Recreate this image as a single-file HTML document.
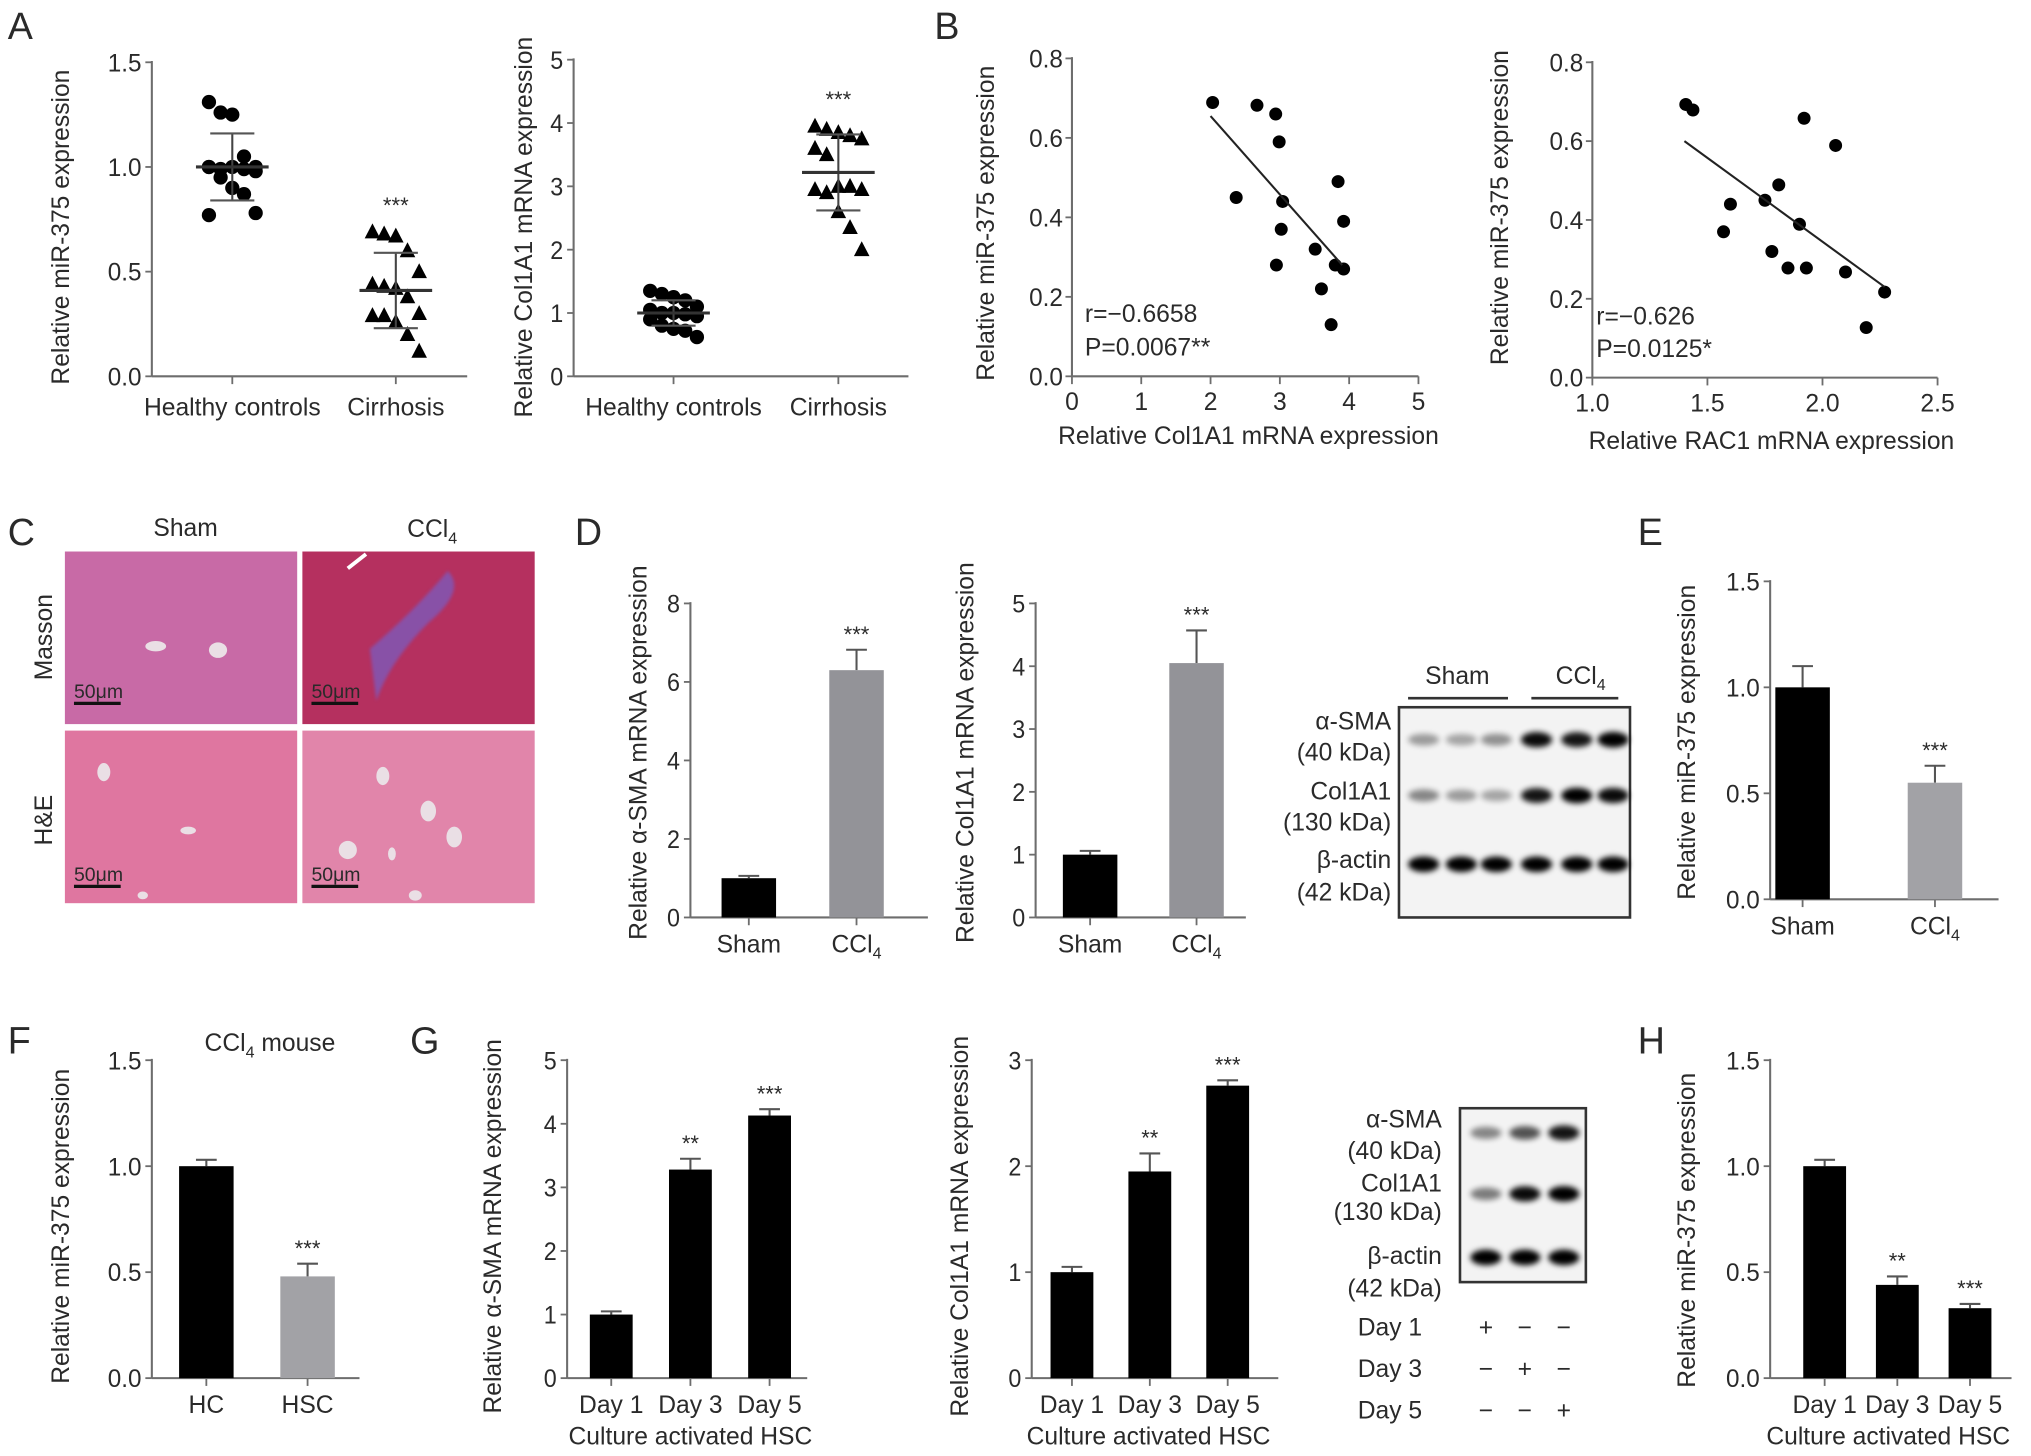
<!DOCTYPE html>
<html><head><meta charset="utf-8">
<style>
html,body{margin:0;padding:0;background:#fff;}
svg{display:block;}
text{font-family:"Liberation Sans",Arial,sans-serif;fill:#2a2a2a;}
</style></head>
<body>
<svg id="fig" xmlns="http://www.w3.org/2000/svg" width="2031" height="1456" viewBox="0 0 1565 1122" preserveAspectRatio="none">
<defs>
<filter id="blur" x="-50%" y="-100%" width="200%" height="300%"><feGaussianBlur stdDeviation="2.2"/></filter>
<filter id="blur2"><feGaussianBlur stdDeviation="1.2"/></filter>
</defs>
</svg>
<script>
// ---------- DATA ----------
const aHealthy = [1.31,1.26,1.25,1.05,1.0,1.0,0.99,1.0,0.99,0.98,1.0,0.95,0.9,0.87,0.78,0.77];
const aCirrhosis = [0.69,0.68,0.67,0.6,0.5,0.44,0.43,0.42,0.38,0.3,0.29,0.29,0.26,0.2,0.12];
const aHealthyStats = [1.0,0.16];
const aCirrhosisStats = [0.41,0.18];
const a2Healthy = [1.35,1.3,1.25,1.2,1.1,1.05,1.0,1.0,0.98,0.95,0.9,0.8,0.75,0.72,0.62];
const a2Cirrhosis = [3.95,3.9,3.85,3.8,3.75,3.6,3.5,3.0,3.0,2.95,2.95,2.9,2.6,2.35,2.0];
const a2HealthyStats = [1.0,0.2];
const a2CirrhosisStats = [3.22,0.6];
const aCategories = ["Healthy controls","Cirrhosis"];
const b1X = [2.03,2.67,2.94,2.99,2.37,3.04,3.02,2.95,3.51,3.6,3.74,3.84,3.92,3.8,3.92];
const b1Y = [0.689,0.682,0.66,0.59,0.45,0.44,0.37,0.28,0.32,0.22,0.13,0.49,0.39,0.28,0.27];
const b1Fit = [2.0,0.655,3.9,0.28];
const b2X = [1.406,1.437,1.92,2.057,1.81,1.6,1.75,1.57,1.9,1.78,1.85,1.93,2.1,2.27,2.19];
const b2Y = [0.693,0.679,0.658,0.589,0.489,0.44,0.45,0.37,0.389,0.32,0.278,0.278,0.268,0.217,0.127];
const b2Fit = [1.4,0.6,2.27,0.23];
const dCats = ["Sham","CCl4"];
const d1Vals = [1.0,6.3]; const d1Err = [0.06,0.52];
const d2Vals = [1.0,4.05]; const d2Err = [0.06,0.52];
const eVals = [1.0,0.55]; const eErr = [0.1,0.08];
const fCats = ["HC","HSC"];
const fVals = [1.0,0.48]; const fErr = [0.03,0.06];
const gCats = ["Day 1","Day 3","Day 5"];
const g1Vals = [1.0,3.28,4.13]; const g1Err = [0.05,0.17,0.1];
const g2Vals = [1.0,1.95,2.76]; const g2Err = [0.05,0.17,0.05];
const hVals = [1.0,0.44,0.33]; const hErr = [0.03,0.04,0.02];
const sigD1 = ["","***"], sigD2 = ["","***"], sigE = ["","***"], sigF = ["","***"];
const sigG1 = ["","**","***"], sigG2 = ["","**","***"], sigH = ["","**","***"];
const ticks15 = [0,0.5,1.0,1.5], ticks15L = ["0.0","0.5","1.0","1.5"];
const ticks5 = [0,1,2,3,4,5], ticks5L = ["0","1","2","3","4","5"];
const ticks8 = [0,2,4,6,8], ticks8L = ["0","2","4","6","8"];
const ticks3 = [0,1,2,3], ticks3L = ["0","1","2","3"];
const ticks08 = [0,0.2,0.4,0.6,0.8], ticks08L = ["0.0","0.2","0.4","0.6","0.8"];
const bx1Ticks = [0,1,2,3,4,5], bx1L = ["0","1","2","3","4","5"];
const bx2Ticks = [1.0,1.5,2.0,2.5], bx2L = ["1.0","1.5","2.0","2.5"];

// ---------- HELPERS ----------
const NS='http://www.w3.org/2000/svg';
const svg=document.getElementById('fig');
function mk(tag,attrs,name,parent){
  const e=document.createElementNS(NS,tag);
  for(const k in attrs) e.setAttribute(k,attrs[k]);
  
  
  (parent||svg).appendChild(e);
  return e;
}
function txt(s,x,y,size,anchor,name,extra){
  const a={x:x,y:y,'font-size':size,'text-anchor':anchor||'start'};
  if(extra) for(const k in extra) a[k]=extra[k];
  const t=mk('text',a,name);
  if(s.indexOf('CCl4')>=0){
    const parts=s.split('CCl4');
    t.appendChild(document.createTextNode(parts[0]+'CCl'));
    const sub=document.createElementNS(NS,'tspan');
    sub.setAttribute('font-size',size*0.65);
    sub.setAttribute('dy',size*0.25);
    sub.textContent='4';
    t.appendChild(sub);
    if(parts[1]){const r=document.createElementNS(NS,'tspan');r.setAttribute('dy',-size*0.25);r.textContent=parts[1];t.appendChild(r);}
  } else t.textContent=s;
  return t;
}
function vtitle(s,x,cy,name){
  return txt(s,x,cy,19,'middle',name,{transform:'rotate(-90 '+x+' '+cy+')'});
}
const AX='#6d6d6d';
function yAxis(c,ticks,labels,pre){
  mk('line',{x1:c.x,y1:c.ytop-1,x2:c.x,y2:c.y0,stroke:AX,'stroke-width':1.6},pre+'-y-axis');
  mk('line',{x1:c.x,y1:c.y0,x2:c.xend,y2:c.y0,stroke:AX,'stroke-width':1.6},pre+'-x-axis');
  ticks.forEach((v,i)=>{
    const y=c.sy(v);
    mk('line',{x1:c.x-5,y1:y,x2:c.x,y2:y,stroke:AX,'stroke-width':1.4},pre+'-y-tick');
    txt(labels[i],c.x-8,y+7,19,'end',pre+'-y-tick-label',{'textLength':labels[i].length>1?26:10,'lengthAdjust':'spacingAndGlyphs'});
  });
}
function scale(y0,ytop,max){return v=>y0-(v/max)*(y0-ytop);}

function barChart(c,cats,vals,errs,sig,colors,pre,title,ticks,labels){
  c.sy=scale(c.y0,c.ytop,c.max);
  yAxis(c,ticks,labels,pre);
  cats.forEach((cat,i)=>{
    const cx=c.cx0+i*c.step, v=vals[i], y=c.sy(v), ye=c.sy(v+errs[i]);
    mk('line',{x1:cx,y1:c.y0,x2:cx,y2:c.y0+6,stroke:AX,'stroke-width':1.4},pre+'-x-tick');
    mk('line',{x1:cx,y1:y,x2:cx,y2:ye,stroke:'#555','stroke-width':1.6},pre+'-error-bar');
    mk('line',{x1:cx-8,y1:ye,x2:cx+8,y2:ye,stroke:'#555','stroke-width':1.6},pre+'-error-cap');
    mk('rect',{x:cx-c.bw/2,y:y,width:c.bw,height:c.y0-y,fill:colors[i]},pre+'-bar-'+cat.toLowerCase().replace(/\s/g,''));
    if(sig[i]) txt(sig[i],cx,ye-6,17,'middle',pre+'-significance');
    txt(cat,cx,c.y0+27,19,'middle',pre+'-x-label');
  });
  vtitle(title,c.tx,c.tcy,pre+'-y-title');
}
function dotPlot(c,groups,stats,shapes,pre){
  c.sy=scale(c.y0,c.ytop,c.max);
  groups.forEach((g,gi)=>{
    const cx=c.cx0+gi*c.step;
    mk('line',{x1:cx,y1:c.y0,x2:cx,y2:c.y0+6,stroke:AX,'stroke-width':1.4},pre+'-x-tick');
    g.forEach((v,i)=>{
      const off=((i%5)-2)*9;
      const x=cx+off, y=c.sy(v);
      if(shapes[gi]==='dot') mk('circle',{cx:x,cy:y,r:5.5,fill:'#000'},pre+'-point');
      else mk('polygon',{points:(x)+','+(y-6.5)+' '+(x-6)+','+(y+5)+' '+(x+6)+','+(y+5),fill:'#000'},pre+'-point');
    });
    const m=stats[gi][0], s=stats[gi][1];
    mk('line',{x1:cx,y1:c.sy(m+s),x2:cx,y2:c.sy(m-s),stroke:'#444','stroke-width':1.6},pre+'-sd-line');
    mk('line',{x1:cx-28,y1:c.sy(m),x2:cx+28,y2:c.sy(m),stroke:'#333','stroke-width':2.4},pre+'-mean-line');
    mk('line',{x1:cx-17,y1:c.sy(m+s),x2:cx+17,y2:c.sy(m+s),stroke:'#555','stroke-width':1.6},pre+'-sd-cap');
    mk('line',{x1:cx-17,y1:c.sy(m-s),x2:cx+17,y2:c.sy(m-s),stroke:'#555','stroke-width':1.6},pre+'-sd-cap');
    txt(aCategories[gi],cx,c.y0+30,19,'middle',pre+'-x-label');
  });
}
function scatter(c,xs,ys,fit,xt,xl,pre){
  const sx=v=>c.x+(v-c.xmin)/(c.xmax-c.xmin)*(c.xend-c.x);
  const sy=scale(c.y0,c.ytop,c.max);
  c.sy=sy;
  mk('line',{x1:c.x,y1:c.ytop-1,x2:c.x,y2:c.y0,stroke:AX,'stroke-width':1.6},pre+'-y-axis');
  mk('line',{x1:c.x,y1:c.y0,x2:c.xend,y2:c.y0,stroke:AX,'stroke-width':1.6},pre+'-x-axis');
  ticks08.forEach((v,i)=>{const y=sy(v);
    mk('line',{x1:c.x-5,y1:y,x2:c.x,y2:y,stroke:AX,'stroke-width':1.4},pre+'-y-tick');
    txt(ticks08L[i],c.x-7,y+7,19,'end',pre+'-y-tick-label',{'textLength':26,'lengthAdjust':'spacingAndGlyphs'});});
  xt.forEach((v,i)=>{const x=sx(v);
    mk('line',{x1:x,y1:c.y0,x2:x,y2:c.y0+6,stroke:AX,'stroke-width':1.4},pre+'-x-tick');
    txt(xl[i],x,c.y0+26,19,'middle',pre+'-x-tick-label');});
  xs.forEach((v,i)=>{mk('circle',{cx:sx(v),cy:sy(ys[i]),r:5,fill:'#000'},pre+'-point');});
  mk('line',{x1:sx(fit[0]),y1:sy(fit[1]),x2:sx(fit[2]),y2:sy(fit[3]),stroke:'#222','stroke-width':1.6},pre+'-regression-line');
}
function panelLabel(s,x,y){txt(s,x,y,29,'start','panel-label-'+s.toLowerCase());}

// ---------- PANEL A ----------
panelLabel('A',6,30);
const cA1={x:117,ytop:48,y0:290,max:1.5,xend:360,cx0:179,step:126};
dotPlot(cA1,[aHealthy,aCirrhosis],[aHealthyStats,aCirrhosisStats],['dot','tri'],'a1');
yAxis(cA1,ticks15,ticks15L,'a1');
txt('***',cA1.cx0+cA1.step,cA1.sy(0.78),17,'middle','a1-significance');
vtitle('Relative miR-375  expression',53,175,'a1-y-title');
const cA2={x:442,ytop:46,y0:290,max:5,xend:700,cx0:519,step:127};
dotPlot(cA2,[a2Healthy,a2Cirrhosis],[a2HealthyStats,a2CirrhosisStats],['dot','tri'],'a2');
yAxis(cA2,ticks5,ticks5L,'a2');
txt('***',cA2.cx0+cA2.step,cA2.sy(4.25),17,'middle','a2-significance');
vtitle('Relative Col1A1 mRNA expression',410,175,'a2-y-title');

// ---------- PANEL B ----------
panelLabel('B',720,30);
const cB1={x:826,ytop:45,y0:290,max:0.8,xend:1093,xmin:0,xmax:5};
scatter(cB1,b1X,b1Y,b1Fit,bx1Ticks,bx1L,'b1');
vtitle('Relative miR-375 expression',766,172,'b1-y-title');
txt('Relative Col1A1 mRNA expression',962,342,19,'middle','b1-x-title');
txt('r=\u22120.6658',836,248,19,'start','b1-r-value');
txt('P=0.0067**',836,274,19,'start','b1-p-value');
const cB2={x:1227,ytop:48,y0:291,max:0.8,xend:1493,xmin:1.0,xmax:2.5};
scatter(cB2,b2X,b2Y,b2Fit,bx2Ticks,bx2L,'b2');
vtitle('Relative miR-375 expression',1162,160,'b2-y-title');
txt('Relative RAC1 mRNA  expression',1365,346,19,'middle','b2-x-title');
txt('r=\u22120.626',1230,250,19,'start','b2-r-value');
txt('P=0.0125*',1230,275,19,'start','b2-p-value');

// ---------- PANEL C (histology) ----------
panelLabel('C',6,420);
txt('Sham',143,413,19,'middle','c-col-label-sham');
txt('CCl4',333,414,19,'middle','c-col-label-ccl4');
vtitle('Masson',40,491,'c-row-label-masson');
vtitle('H&E',40,632,'c-row-label-he');
const histo=[[50,425,'#c86aa6','masson-sham'],[233,425,'#b5305f','masson-ccl4'],[50,563,'#df76a0','he-sham'],[233,563,'#e185aa','he-ccl4']];
histo.forEach(h=>{
  mk('rect',{x:h[0],y:h[1],width:179,height:133,fill:h[2]},'c-image-'+h[3]);
});
mk('path',{d:'M 285 500 Q 320 470 345 440 Q 360 455 330 480 Q 300 510 290 540 Z',fill:'#7a5cc0',opacity:0.75,filter:'url(#blur2)'},'c-collagen-stain');
mk('line',{x1:268,y1:438,x2:282,y2:427,stroke:'#fff','stroke-width':3},'c-vessel');
[[120,498,8,4],[168,501,7,6],[80,595,5,7],[145,640,6,3],[110,690,4,3],[295,598,5,7],[330,625,6,8],[268,655,7,7],[350,645,6,8],[320,690,5,4],[302,658,3,5]].forEach(p=>{
  mk('ellipse',{cx:p[0],cy:p[1],rx:p[2],ry:p[3],fill:'#eadfe5'},'c-vessel');
});
[[57,542],[240,542],[57,683],[240,683]].forEach(p=>{
  txt('50μm',p[0],p[1]-4,15,'start','c-scale-bar-label',{'font-family':'Liberation Serif,serif'});
  mk('line',{x1:p[0],y1:p[1],x2:p[0]+36,y2:p[1],stroke:'#111','stroke-width':2.5},'c-scale-bar');
});

// ---------- PANEL D ----------
panelLabel('D',443,420);
const cD1={x:532,ytop:465,y0:707,max:8,xend:715,cx0:577,step:83,bw:42,tx:498,tcy:580};
barChart(cD1,dCats,d1Vals,d1Err,sigD1,['#000','#939398'],'d1','Relative α-SMA mRNA expression',ticks8,ticks8L);
const cD2={x:798,ytop:465,y0:707,max:5,xend:960,cx0:840,step:82,bw:42,tx:750,tcy:580};
barChart(cD2,dCats,d2Vals,d2Err,sigD2,['#000','#939398'],'d2','Relative Col1A1 mRNA expression',ticks5,ticks5L);

function blot(x,y,w,h,lanes,rows,pre){
  mk('rect',{x:x,y:y,width:w,height:h,fill:'#f3f3f3',stroke:'#333','stroke-width':2},pre+'-blot-box');
  rows.forEach((r)=>{
    lanes.forEach((lx,li)=>{
      const inten=r.vals[li];
      mk('ellipse',{cx:lx,cy:r.y,rx:12,ry:4+inten*2,fill:'#000',opacity:0.15+0.85*inten,filter:'url(#blur)'},pre+'-band');
    });
  });
}
txt('Sham',1123,527,19,'middle','d-blot-sham-label');
txt('CCl4',1218,527,19,'middle','d-blot-ccl4-label');
mk('line',{x1:1085,y1:538,x2:1162,y2:538,stroke:'#333','stroke-width':2},'d-blot-sham-line');
mk('line',{x1:1180,y1:538,x2:1247,y2:538,stroke:'#333','stroke-width':2},'d-blot-ccl4-line');
blot(1078,545,178,162,[1097,1126,1153,1184,1215,1243],[
  {y:570,vals:[0.25,0.2,0.3,0.95,0.9,1]},
  {y:613,vals:[0.35,0.25,0.2,0.9,1,0.95]},
  {y:666,vals:[1,1,1,1,1,1]}],'d');
[['α-SMA',562],['(40 kDa)',586],['Col1A1',616],['(130 kDa)',640],['β-actin',669],['(42 kDa)',694]].forEach(r=>{
  txt(r[0],1072,r[1],19,'end','d-blot-row-label');
});

// ---------- PANEL E ----------
panelLabel('E',1262,420);
const cE={x:1364,ytop:448,y0:693,max:1.5,xend:1540,cx0:1389,step:102,bw:42,tx:1306,tcy:572};
barChart(cE,dCats,eVals,eErr,sigE,['#000','#a2a2a6'],'e','Relative miR-375 expression',ticks15,ticks15L);

// ---------- PANEL F ----------
panelLabel('F',6,812);
txt('CCl4 mouse',208,810,19,'middle','f-title');
const cF={x:117,ytop:817,y0:1062,max:1.5,xend:277,cx0:159,step:78,bw:42,tx:53,tcy:945};
barChart(cF,fCats,fVals,fErr,sigF,['#000','#a2a2a6'],'f','Relative miR-375  expression',ticks15,ticks15L);

// ---------- PANEL G ----------
panelLabel('G',316,812);
const cG1={x:437,ytop:817,y0:1062,max:5,xend:622,cx0:471,step:61,bw:33,tx:386,tcy:945};
barChart(cG1,gCats,g1Vals,g1Err,sigG1,['#000','#000','#000'],'g1','Relative α-SMA mRNA expression',ticks5,ticks5L);
txt('Culture activated HSC',532,1113,19,'middle','g1-x-title');
const cG2={x:795,ytop:817,y0:1062,max:3,xend:985,cx0:826,step:60,bw:33,tx:746,tcy:945};
barChart(cG2,gCats,g2Vals,g2Err,sigG2,['#000','#000','#000'],'g2','Relative Col1A1 mRNA expression',ticks3,ticks3L);
txt('Culture activated HSC',885,1113,19,'middle','g2-x-title');
blot(1125,854,97,134,[1145,1175,1205],[
  {y:873,vals:[0.35,0.6,0.9]},
  {y:920,vals:[0.4,0.95,1]},
  {y:969,vals:[1,1,1]}],'g');
[['α-SMA',869],['(40 kDa)',893],['Col1A1',918],['(130 kDa)',940],['β-actin',974],['(42 kDa)',999]].forEach(r=>{
  txt(r[0],1111,r[1],19,'end','g-blot-row-label');
});
const gSigns=[['+','−','−'],['−','+','−'],['−','−','+']];
gCats.forEach((d,i)=>{
  const y=1029+i*32;
  txt(d,1071,y,19,'middle','g-blot-day-label');
  gSigns[i].forEach((s,j)=>{txt(s,1145+j*30,y,19,'middle','g-blot-day-sign');});
});

// ---------- PANEL H ----------
panelLabel('H',1262,812);
const cH={x:1364,ytop:817,y0:1062,max:1.5,xend:1550,cx0:1406,step:56,bw:33,tx:1306,tcy:948};
barChart(cH,gCats,hVals,hErr,sigH,['#000','#000','#000'],'h','Relative miR-375 expression',ticks15,ticks15L);
txt('Culture activated HSC',1455,1113,19,'middle','h-x-title');
</script>
</body></html>
